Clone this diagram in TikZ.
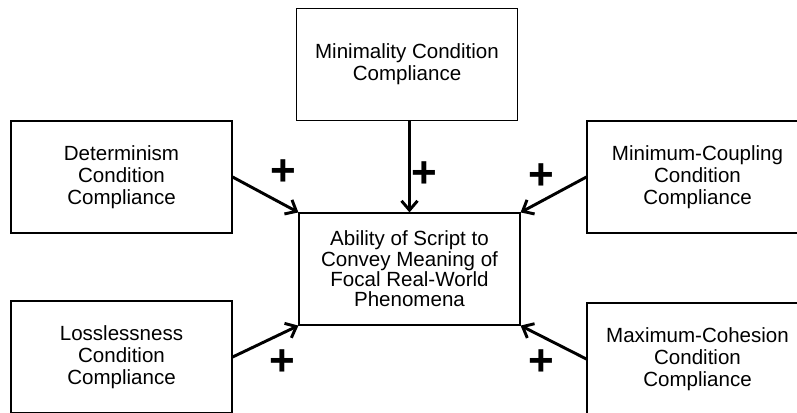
\documentclass[tikz,border=0pt]{standalone}
\usepackage{fontspec}
\setmainfont{Liberation Sans}
\usetikzlibrary{arrows.meta,positioning}

\begin{document}
\begin{tikzpicture}[x=0.75pt, y=-0.75pt,
      box/.style={draw, line width=0.9pt, minimum width=165.75pt, minimum height=84pt,
                  align=center, inner sep=2pt, font=\fontsize{15.4}{16.4}\selectfont},
      hub/.style={box, font=\fontsize{15.4}{15.2}\selectfont},
      arr/.style={-{Straight Barb[length=7pt,width=12pt]}, line width=2.2pt},
      plus/.style={font=\fontsize{33}{33}\selectfont\bfseries, inner sep=0pt}
    ]
    \useasboundingbox (0,0) rectangle (797,412);
    \clip (0,0) rectangle (797,412);

    \node[box] (mini) at (407,64.5)  {Minimality Condition\\Compliance};
    \node[box] (det)  at (121.5,177) {Determinism\\Condition\\Compliance};
    \node[box] (coup) at (697.5,177) {Minimum-Coupling\\Condition\\Compliance};
    \node[hub] (abil) at (409.5,269) {Ability of Script to\\Convey Meaning of\\Focal Real-World\\Phenomena};
    \node[box] (loss) at (121.5,357) {Losslessness\\Condition\\Compliance};
    \node[box] (coh)  at (697.5,359) {Maximum-Cohesion\\Condition\\Compliance};

    \draw[arr] (abil.north |- mini.south) -- (abil.north);
    \draw[arr] (det.east) -- (abil.north west);
    \draw[arr] (coup.west) -- (abil.north east);
    \draw[arr] (loss.east) -- (abil.south west);
    \draw[arr] (coh.west) -- (abil.south east);

    \node[plus] (p1) at (283,173) {+};
    \node[plus] (p2) at (424,175) {+};
    \node[plus] (p3) at (541,177) {+};
    \node[plus] (p4) at (282,363) {+};
    \node[plus] (p5) at (541,363) {+};
  \end{tikzpicture}
\end{document}
